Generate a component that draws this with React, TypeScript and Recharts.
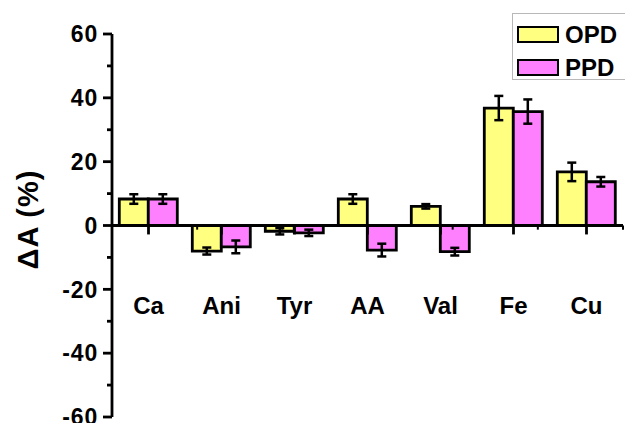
import { BarChart, Bar, XAxis, YAxis, ErrorBar, ReferenceLine, ReferenceDot, Legend } from 'recharts';

const categories = ['Ca', 'Ani', 'Tyr', 'AA', 'Val', 'Fe', 'Cu'];
const opdValues = [8.3, -8.0, -1.8, 8.3, 6.0, 36.8, 16.8];
const opdErrors = [1.5, 1.1, 1.0, 1.5, 0.7, 3.8, 2.9];
const ppdValues = [8.3, -6.7, -2.3, -7.7, -8.2, 35.7, 13.7];
const ppdErrors = [1.5, 2.0, 1.0, 2.0, 1.2, 3.8, 1.5];
const yTicks = [-60, -50, -40, -30, -20, -10, 0, 10, 20, 30, 40, 50, 60];
const boundaries = [1, 2, 3, 4, 5, 6, 7];

const YELLOW = '#FFFF80';
const PINK = '#FF80FF';
const FONT = '"Liberation Sans", Arial, sans-serif';
const LINE = 2.8;

const data = categories.map((name, i) => ({
  name,
  opd: opdValues[i],
  opdErr: opdErrors[i],
  ppd: ppdValues[i],
  ppdErr: ppdErrors[i],
}));

// left axis: long ticks with labels every 20, short unlabeled ones in between
function YTick(props: any) {
  const { x, y, payload } = props;
  const major = payload.value % 20 === 0;
  const axisX = x + 14;
  return (
    <g>
      <line x1={axisX - (major ? 9 : 5)} y1={y} x2={axisX} y2={y} stroke="#000" strokeWidth={LINE} />
      {major && (
        <text x={x} y={y} dy="0.36em" textAnchor="end" fontFamily={FONT} fontWeight={700} fontSize={23} letterSpacing={0.8} fill="#000">
          {payload.value}
        </text>
      )}
    </g>
  );
}

function LegendBox() {
  const items = [
    { label: 'OPD', color: YELLOW },
    { label: 'PPD', color: PINK },
  ];
  return (
    <div
      style={{
        boxSizing: 'border-box',
        height: 67,
        width: 130,
        border: '1px solid #b8b8b8',
        paddingTop: 4,
        paddingLeft: 4,
        background: '#fff',
      }}
    >
      {items.map((it) => (
        <div key={it.label} style={{ display: 'flex', alignItems: 'center', height: 33 }}>
          <div
            style={{
              boxSizing: 'border-box',
              width: 42,
              height: 17,
              border: '2.8px solid #000',
              background: it.color,
              marginRight: 6,
            }}
          />
          <span style={{ fontFamily: FONT, fontWeight: 700, fontSize: 24, color: '#000', lineHeight: '33px' }}>
            {it.label}
          </span>
        </div>
      ))}
    </div>
  );
}

export default function App() {
  return (
    <div style={{ position: 'absolute', left: 0, top: 0, background: '#fff' }}>
      <BarChart
        width={625}
        height={423}
        data={data}
        margin={{ top: 34, right: 2, bottom: 6, left: 0 }}
        barCategoryGap="10%"
        barGap={0}
      >
        <XAxis dataKey="name" type="category" hide />
        <XAxis xAxisId="edge" type="number" domain={[0, 7]} allowDataOverflow hide />
        <YAxis
          width={112}
          domain={[-60, 60]}
          ticks={yTicks}
          interval={0}
          allowDataOverflow
          stroke="#000"
          strokeWidth={LINE}
          axisLine={{ stroke: '#000', strokeWidth: LINE }}
          tickLine={false}
          tickSize={9}
          tickMargin={5}
          tick={<YTick />}
          label={{
            content: (p: any) => {
              const vb = p.viewBox;
              const cx = vb.x + 28;
              const cy = vb.y + vb.height / 2 - 6;
              return (
                <text
                  x={cx}
                  y={cy}
                  transform={`rotate(-90 ${cx} ${cy})`}
                  textAnchor="middle"
                  dy="0.36em"
                  fontFamily={FONT}
                  fontWeight={700}
                  fontSize={29}
                  letterSpacing={1}
                  fill="#000"
                >
                  ΔA (%)
                </text>
              );
            },
          }}
        />
        <Legend
          layout="horizontal"
          verticalAlign="middle"
          align="center"
          wrapperStyle={{ left: 512, top: 13, width: 130, height: 67 }}
          content={() => <LegendBox />}
        />
        <Bar dataKey="opd" name="OPD" fill={YELLOW} stroke="#000" strokeWidth={LINE} isAnimationActive={false}>
          <ErrorBar dataKey="opdErr" width={4.5} stroke="#000" strokeWidth={2.5} isAnimationActive={false} />
        </Bar>
        <Bar dataKey="ppd" name="PPD" fill={PINK} stroke="#000" strokeWidth={LINE} isAnimationActive={false}>
          <ErrorBar dataKey="ppdErr" width={4.5} stroke="#000" strokeWidth={2.5} isAnimationActive={false} />
        </Bar>
        <ReferenceLine y={0} stroke="#000" strokeWidth={LINE} />
        {categories.map((c) => (
          <ReferenceLine
            key={`tick-${c}`}
            segment={[
              { x: c, y: 0 },
              { x: c, y: -2.8 },
            ]}
            stroke="#000"
            strokeWidth={LINE}
          />
        ))}
        {boundaries.map((b) => (
          <ReferenceLine
            key={`minor-${b}`}
            xAxisId="edge"
            segment={[
              { x: b, y: 0 },
              { x: b, y: -1.3 },
            ]}
            stroke="#000"
            strokeWidth={2}
          />
        ))}
        {categories.map((c) => (
          <ReferenceDot
            key={`label-${c}`}
            x={c}
            y={-25}
            r={0}
            fill="none"
            stroke="none"
            label={{ value: c, position: 'center', fill: '#000', fontSize: 24, fontWeight: 700, fontFamily: FONT }}
          />
        ))}
      </BarChart>
    </div>
  );
}
